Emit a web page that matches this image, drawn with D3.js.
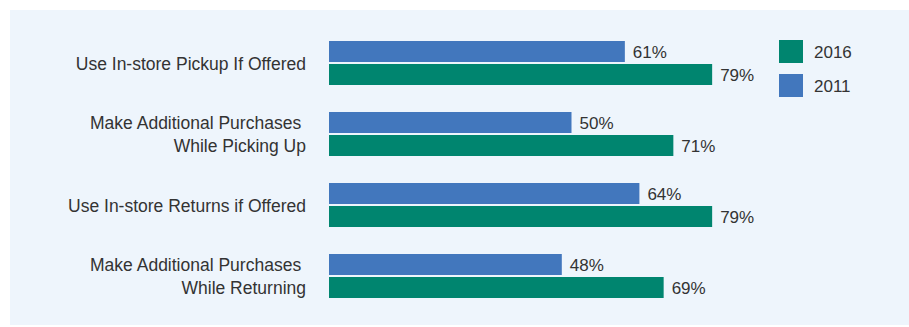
<!DOCTYPE html>
<html>
<head>
<meta charset="utf-8">
<script src="https://cdn.jsdelivr.net/npm/d3@7"></script>
<style>
  html, body { margin: 0; padding: 0; background: #ffffff; }
  svg { display: block; }
  text { font-family: "Liberation Sans", Arial, Helvetica, sans-serif; }
</style>
</head>
<body>
<svg id="chart" width="909" height="327"></svg>
<script>
const categories = [
  ["Use In-store Pickup If Offered"],
  ["Make Additional Purchases\u00a0", "While Picking Up"],
  ["Use In-store Returns if Offered"],
  ["Make Additional Purchases\u00a0", "While Returning"]
];
const seriesNames = ["2011", "2016"];
const values2011 = [61, 50, 64, 48];
const values2016 = [79, 71, 79, 69];
const legendOrder = ["2016", "2011"];

const colors = { "2011": "#4277bd", "2016": "#00856f" };
const seriesValues = { "2011": values2011, "2016": values2016 };

const svg = d3.select("#chart");

svg.append("rect")
  .attr("x", 10).attr("y", 10)
  .attr("width", 899).attr("height", 315)
  .attr("fill", "#eef5fc");

const idx = categories.map((d, i) => i);
const y = d3.scaleBand().domain(idx).range([41, 298]).paddingInner(27 / 71).paddingOuter(0);
const ySub = d3.scaleBand().domain(seriesNames).range([0, y.bandwidth()]).paddingInner(2 / 23).paddingOuter(0);
const x = d3.scaleLinear().domain([0, 100]).range([329, 329 + 485]);

const rows = svg.selectAll("g.row").data(idx).enter().append("g")
  .attr("class", "row")
  .attr("transform", i => `translate(0,${y(i)})`);

seriesNames.forEach(s => {
  rows.append("rect")
    .attr("x", x(0))
    .attr("y", ySub(s))
    .attr("width", i => x(seriesValues[s][i]) - x(0))
    .attr("height", ySub.bandwidth())
    .attr("fill", colors[s]);
  rows.append("text")
    .attr("x", i => x(seriesValues[s][i]) + 8)
    .attr("y", ySub(s) + ySub.bandwidth() / 2)
    .attr("dy", "0.36em")
    .attr("font-size", 17)
    .attr("fill", "#333333")
    .text(i => seriesValues[s][i] + "%");
});

rows.each(function(i) {
  const lines = categories[i];
  const g = d3.select(this);
  const t = g.append("text")
    .attr("text-anchor", "end")
    .attr("font-size", 17.5)
    .attr("fill", "#333333");
  if (lines.length === 1) {
    t.append("tspan").attr("x", 306).attr("y", y.bandwidth() / 2).attr("dy", "0.38em").text(lines[0]);
  } else {
    lines.forEach((l, k) => {
      t.append("tspan").attr("x", 306)
        .attr("y", ySub(seriesNames[k]) + ySub.bandwidth() / 2)
        .attr("dy", "0.36em")
        .text(l);
    });
  }
});

const legend = svg.selectAll("g.legend").data(legendOrder).enter().append("g")
  .attr("class", "legend")
  .attr("transform", (d, k) => `translate(779,${40 + k * 34})`);
legend.append("rect").attr("width", 24).attr("height", 23).attr("fill", d => colors[d]);
legend.append("text")
  .attr("x", 35).attr("y", 11.5).attr("dy", "0.36em")
  .attr("font-size", 17).attr("fill", "#333333")
  .text(d => d);
</script>
</body>
</html>
